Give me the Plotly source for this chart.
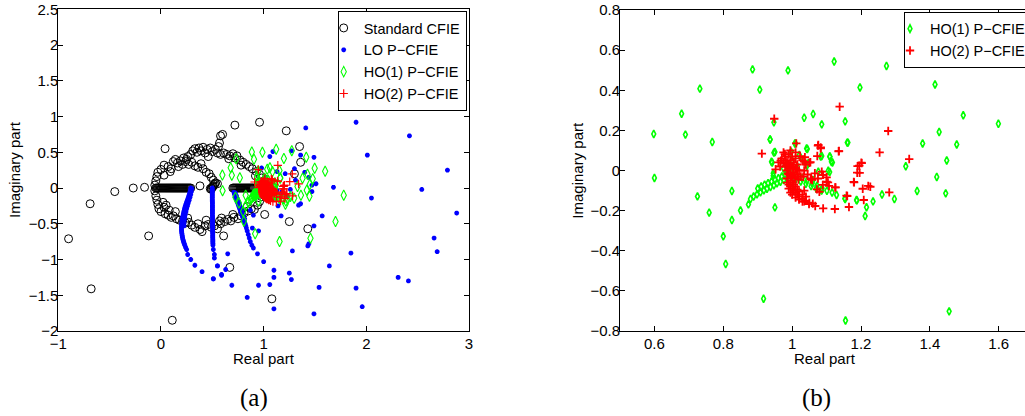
import plotly.graph_objects as go

# ---------------- Standard CFIE (black circles) ----------------
std_re = [
    -0.90, -0.69, -0.68, -0.45, -0.27, -0.16, -0.12, 0.11, 0.04, 0.72, 0.96, 1.22, 1.35, 1.36,
    1.30, 1.25, 1.43, 0.67, 1.08, 0.38, 0.61, 1.01, 0.58, 0.60, 0.57, 0.56, 0.59,
    # upper ring
    -0.06, -0.05, -0.04, -0.03, 0.00, 0.03, 0.07, 0.09, 0.12, 0.14, 0.16, 0.19, 0.22, 0.25, 0.26,
    0.29, 0.31, 0.33, 0.35, 0.37, 0.39, 0.41, 0.43, 0.45, 0.48, 0.50, 0.53, 0.55, 0.58, 0.61, 0.64,
    0.67, 0.70, 0.72, 0.74, 0.77, 0.80, 0.83, 0.86, 0.89, 0.93, 0.96, 0.98,
    0.27, 0.30, 0.33, 0.36, 0.39, 0.41, 0.44, 0.47, 0.49, 0.51, 0.53, 0.55, 0.17, 0.21,
    0.03, 0.10, 0.24, 0.46, 0.66, 0.78, 0.92,
    # lower ring
    -0.06, -0.05, -0.04, -0.03, -0.02, 0.00, 0.03, 0.04, 0.07, 0.10, 0.12, 0.15, 0.18, 0.21, 0.24,
    0.27, 0.30, 0.33, 0.36, 0.38, 0.40, 0.43, 0.46, 0.49, 0.52, 0.55, 0.58, 0.62, 0.65, 0.68,
    0.71, 0.75, 0.78, 0.81, 0.85, 0.88, 0.91, 0.94, 0.96, 0.98, 0.02, 0.05, 0.08,
    0.14, 0.26, 0.44, 0.57, 0.70, 0.84,
    # dense bar near 0
    -0.05, -0.04, -0.03, -0.02, -0.01, 0.00, 0.01, 0.02, 0.03, 0.04, 0.05, 0.06, 0.07, 0.08, 0.09,
    0.10, 0.11, 0.12, 0.13, 0.14, 0.15, 0.16, 0.17, 0.18, 0.19, 0.20, 0.21, 0.22, 0.23, 0.24,
    0.25, 0.26, 0.27, 0.28, 0.29,
    # blob near 0.5
    0.48, 0.49, 0.50, 0.505, 0.51, 0.52, 0.53, 0.49,
    # dense bar near 0.8
    0.70, 0.71, 0.72, 0.73, 0.74, 0.75, 0.76, 0.77, 0.78, 0.79, 0.80, 0.81, 0.82, 0.83, 0.84,
    0.85, 0.86, 0.87, 0.88, 0.89, 0.90,
]
std_im = [
    -0.71, -0.22, -1.41, -0.05, 0.00, 0.01, -0.67, -1.85, 0.55, 0.88, 0.92, 0.80, 0.58, 0.36,
    0.20, -0.47, -0.57, -1.11, -1.55, 0.03, -0.67, -0.37, 0.73, 0.75, 0.63, 0.58, -0.42,
    # upper ring
    0.04, 0.10, 0.16, 0.22, 0.26, 0.32, 0.30, 0.23, 0.37, 0.40, 0.35, 0.38, 0.42, 0.40, 0.44,
    0.47, 0.52, 0.55, 0.50, 0.56, 0.52, 0.57, 0.49, 0.54, 0.56, 0.51, 0.54, 0.49, 0.47, 0.49, 0.47,
    0.45, 0.48, 0.42, 0.45, 0.39, 0.36, 0.33, 0.30, 0.27, 0.23, 0.19, 0.14,
    0.33, 0.36, 0.31, 0.29, 0.34, 0.27, 0.22, 0.20, 0.15, 0.11, 0.07, 0.06, 0.30, 0.33,
    0.18, 0.27, 0.37, 0.44, 0.41, 0.32, 0.17,
    # lower ring
    -0.04, -0.11, -0.17, -0.23, -0.29, -0.33, -0.27, -0.36, -0.38, -0.41, -0.39, -0.43, -0.45, -0.46, -0.49,
    -0.48, -0.52, -0.55, -0.50, -0.58, -0.61, -0.53, -0.51, -0.55, -0.53, -0.57, -0.50, -0.47, -0.44, -0.46,
    -0.41, -0.43, -0.39, -0.35, -0.32, -0.29, -0.30, -0.24, -0.19, -0.12, -0.20, -0.24, -0.31,
    -0.33, -0.42, -0.45, -0.46, -0.37, -0.26,
    # dense bar near 0
    0, 0, 0, 0, 0, 0, 0, 0, 0, 0, 0, 0, 0, 0, 0,
    0, 0, 0, 0, 0, 0, 0, 0, 0, 0, 0, 0, 0, 0, 0,
    0, 0, 0, 0, 0,
    # blob near 0.5
    -0.01, 0.00, 0.01, 0.02, 0.03, 0.05, 0.07, -0.02,
    # dense bar near 0.8
    0, 0, 0, 0, 0, 0, 0, 0, 0, 0, 0, 0, 0, 0, 0,
    0, 0, 0, 0, 0, 0,
]

# ---------------- LO P-CFIE (blue stars) ----------------
lo_re = [
    # tail 1
    0.290, 0.288, 0.285, 0.282, 0.278, 0.274, 0.270, 0.265, 0.260, 0.255, 0.250, 0.245, 0.240, 0.236,
    0.232, 0.228, 0.225, 0.222, 0.219, 0.216, 0.213, 0.210, 0.208, 0.206, 0.204, 0.202, 0.201, 0.200,
    0.200, 0.200, 0.201, 0.202, 0.204, 0.206, 0.208, 0.211, 0.214, 0.218, 0.222, 0.227, 0.232, 0.240,
    0.250, 0.260, 0.290, 0.330, 0.400,
    0.300, 0.296, 0.290, 0.283, 0.275, 0.266, 0.258, 0.250, 0.243, 0.237, 0.232, 0.228, 0.225, 0.224,
    # tail 2
    0.500, 0.500, 0.500, 0.500, 0.500, 0.500, 0.500, 0.500, 0.500, 0.500, 0.501, 0.501, 0.501, 0.501,
    0.501, 0.501, 0.501, 0.501, 0.501, 0.501, 0.502, 0.502, 0.502, 0.502, 0.502, 0.502, 0.502, 0.503,
    0.503, 0.503, 0.503, 0.503, 0.504, 0.504, 0.504, 0.504, 0.505, 0.505, 0.505, 0.506, 0.506,
    0.510, 0.520, 0.520, 0.550, 0.590, 0.510,
    # tail 3
    0.710, 0.715, 0.720, 0.725, 0.730, 0.735, 0.740, 0.745, 0.750, 0.755, 0.760, 0.765, 0.770, 0.775,
    0.780, 0.785, 0.790, 0.795, 0.800, 0.805, 0.810, 0.815, 0.820, 0.826, 0.832, 0.840, 0.850, 0.860,
    0.870, 0.885, 0.900, 0.940, 1.000,
    0.725, 0.735, 0.745, 0.755, 0.765, 0.775, 0.785, 0.795, 0.805, 0.815,
    # scattered
    1.41, 1.90, 2.42, 2.01, 2.79, 2.54, 2.05, 2.88, 1.68, 1.57, 1.49, 1.44, 1.43, 1.85, 2.66, 2.69,
    1.64, 1.28, 2.31, 2.41, 1.90, 1.96, 1.54, 1.49, 1.10, 0.84, 0.95, 1.06, 1.10, 1.10, 1.25, 1.27,
    0.69, 0.59, 0.63, 0.65, 0.55, 0.51, 1.14, 1.17, 1.36, 1.13, 1.49, 1.36, 1.27, 1.09, 1.06,
    1.30, 1.51, 1.13, 1.21, 1.31, 1.47, 1.47, 1.23, 0.87, 0.94, 1.34, 0.89, 0.98, 1.02, 1.05, 1.08,
    1.18, 1.26, 1.40, 1.44, 0.90, 0.95,
]
lo_im = [
    # tail 1
    0.00, -0.02, -0.04, -0.06, -0.08, -0.10, -0.12, -0.14, -0.16, -0.18, -0.20, -0.22, -0.24, -0.26,
    -0.28, -0.30, -0.32, -0.34, -0.36, -0.38, -0.40, -0.42, -0.44, -0.46, -0.48, -0.50, -0.52, -0.54,
    -0.56, -0.58, -0.60, -0.62, -0.64, -0.66, -0.68, -0.70, -0.72, -0.74, -0.76, -0.78, -0.80, -0.83,
    -0.86, -0.93, -1.00, -1.08, -1.17,
    -0.01, -0.05, -0.09, -0.13, -0.17, -0.21, -0.25, -0.29, -0.33, -0.37, -0.41, -0.45, -0.49, -0.53,
    # tail 2
    0.00, -0.02, -0.04, -0.06, -0.08, -0.10, -0.12, -0.14, -0.16, -0.18, -0.20, -0.22, -0.24, -0.26,
    -0.28, -0.30, -0.32, -0.34, -0.36, -0.38, -0.40, -0.42, -0.44, -0.46, -0.48, -0.50, -0.52, -0.54,
    -0.56, -0.58, -0.60, -0.62, -0.64, -0.66, -0.68, -0.70, -0.72, -0.74, -0.76, -0.78, -0.80,
    -0.86, -0.93, -0.98, -1.09, -1.21, -1.27,
    # tail 3
    -0.06, -0.08, -0.10, -0.12, -0.14, -0.16, -0.18, -0.20, -0.22, -0.24, -0.26, -0.28, -0.30, -0.32,
    -0.34, -0.36, -0.38, -0.40, -0.42, -0.44, -0.46, -0.48, -0.50, -0.53, -0.56, -0.60, -0.65, -0.70,
    -0.75, -0.80, -0.84, -0.92, -1.03,
    -0.07, -0.11, -0.15, -0.19, -0.23, -0.27, -0.31, -0.35, -0.39, -0.43,
    # scattered
    0.84, 0.92, 0.73, 0.46, 0.25, -0.02, -0.14, -0.35, 0.01, -0.39, -0.53, -0.78, -0.81, -0.91, -0.70, -0.89,
    -1.09, -0.88, -1.25, -1.30, -1.40, -1.66, -1.39, -1.76, -1.69, -1.53, -1.36, -1.35, -1.15, -1.25, -1.19, -1.28,
    -1.36, -1.22, -1.14, -0.92, -1.09, -1.27, -0.25, -0.39, -0.22, -0.03, 0.43, 0.46, 0.52, 0.51, 0.44,
    0.27, 0.06, 0.23, 0.20, 0.11, 0.04, -0.05, -0.12, -0.31, -0.10, -0.24, -0.56, 0.28, 0.15, 0.05, -0.08,
    -0.05, -0.02, 0.22, 0.15, -0.38, -0.60,
]

# ---------------- HO(1) P-CFIE (green diamonds) ----------------
ho1_re = [
    0.598, 0.600, 0.679, 0.690, 0.732, 0.768, 0.725, 0.759, 0.825, 0.825, 0.850, 0.873, 0.885, 0.906,
    0.800, 0.807, 0.917, 0.988, 1.122, 1.274, 1.197, 1.415, 1.035, 1.061, 1.086, 1.154, 0.947, 0.936,
    1.162, 1.497, 1.599, 1.427, 1.379, 1.478, 1.330, 1.449, 1.420, 1.446, 1.363, 1.297, 1.261, 1.235,
    1.212, 1.188, 1.154, 1.456, 1.155, 0.950, 0.945, 0.942, 0.950, 1.109, 1.117, 1.109, 1.044, 1.043,
    1.010, 0.997, 1.086,
    # left trail
    0.985, 0.976, 0.966, 0.956, 0.947, 0.937, 0.927, 0.918, 0.908, 0.898, 0.888, 0.879,
    0.990, 0.980, 0.970, 0.960, 0.950, 0.940, 0.930, 0.920, 0.910, 0.900,
    # right trail
    1.003, 1.014, 1.029, 1.043, 1.058, 1.072, 1.087, 1.101, 1.116, 1.129, 1.153, 1.187, 1.216,
    1.010, 1.025, 1.040, 1.055, 1.070, 1.085,
    # cluster
    0.936, 0.947, 0.940, 0.945, 1.008, 1.042, 1.083, 1.110, 1.114, 1.105, 1.047, 1.160, 0.996, 1.021,
    1.032, 1.076, 1.061, 1.086, 0.975, 0.985, 1.000, 1.015, 0.990, 1.005,
    # only in (a)
    1.78, 1.70,
]
ho1_im = [
    0.182, -0.037, 0.283, 0.179, 0.408, 0.142, -0.129, -0.210, -0.102, -0.247, -0.199, -0.169, 0.504, 0.403,
    -0.328, -0.466, -0.639, 0.499, 0.543, 0.521, 0.414, 0.429, 0.263, 0.282, 0.230, 0.245, 0.240, 0.154,
    0.139, 0.275, 0.233, 0.192, 0.135, 0.130, 0.021, 0.050, -0.032, -0.114, -0.102, -0.142, -0.120, -0.154,
    -0.227, -0.149, -0.142, -0.702, -0.748, -0.184, -0.026, 0.040, 0.092, 0.070, 0.040, -0.008, 0.107, 0.024,
    0.134, 0.094, 0.072,
    # left trail
    -0.039, -0.047, -0.056, -0.064, -0.074, -0.082, -0.091, -0.099, -0.109, -0.119, -0.130, -0.142,
    -0.015, -0.022, -0.030, -0.038, -0.046, -0.055, -0.063, -0.071, -0.080, -0.090,
    # right trail
    -0.031, -0.027, -0.039, -0.051, -0.064, -0.076, -0.089, -0.101, -0.110, -0.122, -0.139, -0.147, -0.183,
    -0.045, -0.055, -0.066, -0.078, -0.090, -0.100,
    # cluster
    0.155, 0.089, 0.044, -0.014, 0.135, 0.110, 0.069, 0.069, 0.044, -0.001, 0.036, 0.139, 0.089, 0.077,
    0.052, -0.006, -0.047, -0.097, 0.010, 0.030, 0.050, 0.020, -0.010, 0.000,
    # only in (a)
    -0.10, -0.47,
]

# ---------------- HO(2) P-CFIE (red plus) ----------------
ho2_re = [
    1.138, 0.948, 1.279, 0.912, 1.254, 1.340, 1.202, 1.190, 1.196, 1.179, 1.205, 1.227, 1.208, 1.158,
    1.282, 1.165, 1.124, 1.090, 1.067, 1.049, 1.035, 1.135, 1.126,
    0.979, 0.967, 0.952, 1.023, 1.035, 1.050, 1.076, 1.083, 1.073, 1.136, 1.086, 1.066, 1.054, 1.032,
    1.090, 1.100, 1.107, 1.089, 1.035, 1.079, 1.125, 1.180, 1.195, 1.189, 1.201, 1.221, 1.160,
    1.012, 1.075, 1.083, 1.037, 1.053, 1.058, 1.075, 1.089, 1.072, 1.100, 1.104,
    # dense head and tail
    0.970, 0.980, 0.990, 1.000, 1.010, 0.975, 0.985, 0.995, 1.005, 1.015, 0.980, 0.990, 1.000, 1.010,
    1.020, 0.985, 0.995, 1.005, 1.015, 1.025, 0.990, 1.000, 1.010, 0.985, 0.995, 1.000, 0.990, 0.995,
    1.000, 1.005, 1.010, 1.015, 1.020, 1.030, 1.040, 1.050, 1.060, 0.985, 0.990, 0.995, 1.000, 1.010,
    1.020, 1.030, 1.005, 1.010, 1.015, 1.020, 1.030, 1.040, 0.960, 0.965, 1.030, 1.040, 1.035, 1.045,
    1.055, 0.975, 0.995, 1.010, 0.980, 0.992, 1.002, 1.012, 0.988, 0.998, 1.008, 1.018,
]
ho2_im = [
    0.318, 0.258, 0.197, 0.084, 0.090, 0.057, 0.037, 0.022, -0.012, -0.057, -0.091, -0.081, -0.147, -0.125,
    -0.109, -0.182, -0.192, -0.189, -0.177, -0.167, -0.154, 0.096, -0.084,
    0.082, 0.049, 0.006, 0.072, 0.044, 0.039, 0.127, 0.115, 0.072, 0.097, -0.006, -0.014, -0.044, -0.031,
    -0.022, -0.056, -0.077, -0.072, -0.100, -0.106, -0.084, -0.059, 0.024, -0.011, 0.039, -0.077, -0.127,
    0.135, 0.124, 0.110, 0.066, 0.041, -0.047, -0.040, -0.022, -0.094, -0.034, -0.059,
    # dense head and tail
    0.060, 0.070, 0.080, 0.070, 0.060, 0.040, 0.050, 0.050, 0.040, 0.030, 0.020, 0.030, 0.020, 0.010,
    0.000, 0.000, 0.010, -0.010, -0.020, -0.030, -0.020, -0.030, -0.040, -0.040, -0.050, -0.060, -0.070, -0.080,
    -0.090, -0.100, -0.110, -0.120, -0.130, -0.140, -0.150, -0.160, -0.165, -0.060, -0.090, -0.110, -0.120, -0.135,
    -0.145, -0.155, -0.070, -0.080, -0.095, -0.105, -0.120, -0.130, 0.040, 0.020, 0.050, 0.030, 0.000, -0.020,
    -0.040, 0.090, 0.100, 0.090, 0.035, 0.025, 0.015, 0.005, -0.015, -0.025, -0.035, -0.045,
]

# ---------------- axes ----------------
a_xrange = [-1, 3]
a_yrange = [-2, 2.5]
b_xrange = [0.5, 1.6763]
b_yrange = [-0.8, 0.8]

W, H = 1025, 416
FONT = "Liberation Sans, Arial, Helvetica, sans-serif"
SERIF = "Liberation Serif, Times New Roman, serif"

fig = go.Figure()

# (a)
fig.add_trace(go.Scatter(x=std_re, y=std_im, mode="markers", name="Standard CFIE",
                         xaxis="x", yaxis="y", legend="legend",
                         marker=dict(symbol="circle-open", size=8, color="black",
                                     line=dict(width=1, color="black"))))
fig.add_trace(go.Scatter(x=lo_re, y=lo_im, mode="markers", name="LO P\u2212CFIE",
                         xaxis="x", yaxis="y", legend="legend",
                         marker=dict(symbol="asterisk-open", size=4, color="blue",
                                     line=dict(width=1.6, color="blue"))))
fig.add_trace(go.Scatter(x=ho1_re, y=ho1_im, mode="markers", name="HO(1) P\u2212CFIE",
                         xaxis="x", yaxis="y", legend="legend",
                         marker=dict(symbol="diamond-tall-open", size=7.5, color="#00ff00",
                                     line=dict(width=1.1, color="#00ff00"))))
fig.add_trace(go.Scatter(x=ho2_re, y=ho2_im, mode="markers", name="HO(2) P\u2212CFIE",
                         xaxis="x", yaxis="y", legend="legend",
                         marker=dict(symbol="cross-thin-open", size=6, color="red",
                                     line=dict(width=1.2, color="red"))))

# (b)
fig.add_trace(go.Scatter(x=ho1_re, y=ho1_im, mode="markers", name="HO(1) P\u2212CFIE",
                         xaxis="x2", yaxis="y2", legend="legend2", cliponaxis=True,
                         marker=dict(symbol="diamond-tall-open", size=5.5, color="#00ff00",
                                     line=dict(width=1.6, color="#00ff00"))))
fig.add_trace(go.Scatter(x=ho2_re, y=ho2_im, mode="markers", name="HO(2) P\u2212CFIE",
                         xaxis="x2", yaxis="y2", legend="legend2", cliponaxis=True,
                         marker=dict(symbol="cross-thin-open", size=6, color="red",
                                     line=dict(width=1.8, color="red"))))

ax_common = dict(showgrid=False, zeroline=False, showline=True, linecolor="black", linewidth=1,
                 ticks="inside", ticklen=5, tickwidth=1, tickcolor="black",
                 tickfont=dict(family=FONT, size=15, color="black"), automargin=False)

ydom = [1 - 331 / H, 1 - 9.3 / H]
y2dom = [1 - 331 / H, 1 - 10 / H]

fig.update_layout(
    width=W, height=H,
    margin=dict(l=0, r=0, t=0, b=0, pad=0, autoexpand=False),
    paper_bgcolor="white", plot_bgcolor="white",
    font=dict(family=FONT, size=15, color="black"),
    xaxis=dict(domain=[58.3 / W, 469 / W], range=a_xrange, anchor="y", mirror="ticks",
               dtick=1, ticklabelstandoff=-1, **ax_common),
    yaxis=dict(domain=ydom, range=a_yrange, anchor="x", mirror="ticks", dtick=0.5,
               ticklabelstandoff=-4, **ax_common),
    xaxis2=dict(domain=[620 / W, 1.0], range=b_xrange, anchor="y2", mirror="ticks",
                tickvals=[0.6, 0.8, 1.0, 1.2, 1.4, 1.6], ticklabelstandoff=-1, **ax_common),
    yaxis2=dict(domain=y2dom, range=b_yrange, anchor="x2", mirror=False, dtick=0.2,
                ticklabelstandoff=-4, **ax_common),
    legend=dict(x=466.7 / W, y=1 - 11 / H, xanchor="right", yanchor="top",
                bgcolor="white", bordercolor="black", borderwidth=1,
                font=dict(family=FONT, size=14.5, color="black"),
                itemwidth=30, indentation=-15, tracegroupgap=0),
    legend2=dict(x=904 / W, y=1 - 11.7 / H, xanchor="left", yanchor="top",
                 bgcolor="white", bordercolor="black", borderwidth=1,
                 font=dict(family=FONT, size=14.5, color="black"),
                 itemwidth=30, indentation=-15, tracegroupgap=0),
    showlegend=True,
)

ann = []
for xc in [14, 576.7]:
    ann.append(dict(text="Imaginary part", x=xc / W, y=1 - 170 / H, xref="paper", yref="paper",
                    showarrow=False, textangle=-90, xanchor="center", yanchor="middle",
                    font=dict(family=FONT, size=15, color="black")))
for xc in [263.5, 825]:
    ann.append(dict(text="Real part", x=xc / W, y=1 - 358 / H, xref="paper", yref="paper",
                    showarrow=False, xanchor="center", yanchor="middle",
                    font=dict(family=FONT, size=15, color="black")))
for xc, t in [(254, "(a)"), (816, "(b)")]:
    ann.append(dict(text=t, x=xc / W, y=1 - 398 / H, xref="paper", yref="paper",
                    showarrow=False, xanchor="center", yanchor="middle",
                    font=dict(family=SERIF, size=25, color="black")))
fig.update_layout(annotations=ann)

fig.write_html("out.html", config={"displayModeBar": False},
               post_script="document.body.style.margin='0';document.body.style.overflow='hidden';")
